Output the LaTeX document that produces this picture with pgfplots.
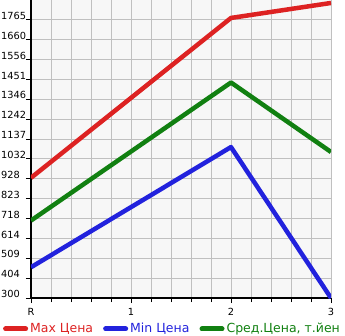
\documentclass[border=0pt]{standalone}
\usepackage{fontspec}
\setmainfont{DejaVu Sans}
\usepackage{pgfplots}
\pgfplotsset{compat=1.18}
\definecolor{cred}{RGB}{221,34,34}
\definecolor{cblue}{RGB}{34,34,221}
\definecolor{cgreen}{RGB}{17,128,17}
\definecolor{bg}{RGB}{247,247,247}
\definecolor{gridc}{RGB}{192,192,192}
\begin{document}
\begin{tikzpicture}
\useasboundingbox (-31pt,-37pt) rectangle (314pt,298pt);
\begin{axis}[
  at={(0pt,0pt)}, anchor=south west,
  scale only axis, width=300pt, height=298pt,
  xmin=0, xmax=3, ymin=300, ymax=1869.6,
  axis background/.style={fill=bg},
  axis x line=bottom, axis y line=left,
  axis line style={black, line width=1.8pt, -},
  xtick={0,1,2,3}, xticklabels={R,1,2,3},
  minor x tick num=4,
  ytick={300,404.64,509.29,613.93,718.57,823.21,927.86,1032.5,1137.14,1241.79,1346.43,1451.07,1555.71,1660.36,1765},
  yticklabels={300,404,509,614,718,823,928,1032,1137,1242,1346,1451,1556,1660,1765},
  grid=both,
  major grid style={gridc, line width=0.9pt},
  minor grid style={gridc, line width=0.9pt},
  tick style={black, line width=0.9pt},
  major tick length=5pt, minor tick length=4pt,
  tick align=outside,
  ticklabel style={font=\fontsize{9.8}{11}\selectfont},
  yticklabel style={anchor=south west, inner sep=0pt, xshift=-25pt},
  xticklabel style={anchor=center, inner sep=0pt, yshift=-9pt},
  legend columns=3,
  legend style={at={(0.4717,-0.104)}, anchor=center, draw=none, fill=none,
    font=\fontsize{12.5}{14}\selectfont, inner sep=0pt,
    /tikz/every even column/.append style={column sep=8pt}},
  legend image code/.code={\draw[#1, line width=5pt, line cap=round] (0pt,0pt) -- (20pt,0pt);},
]
\addplot[cred, line width=4.5pt, line join=round] coordinates {(0,933) (2,1775) (3,1854)};
\addlegendentry{\textcolor{cred}{Max Цена}}
\addplot[cblue, line width=4.5pt, line join=round] coordinates {(0,462) (2,1095) (3,300)};
\addlegendentry{\textcolor{cblue}{Min Цена}}
\addplot[cgreen, line width=4.5pt, line join=round] coordinates {(0,708) (2,1435) (3,1069)};
\addlegendentry{\textcolor{cgreen}{Сред.Цена, т.йен}}
\end{axis}
\end{tikzpicture}
\end{document}
